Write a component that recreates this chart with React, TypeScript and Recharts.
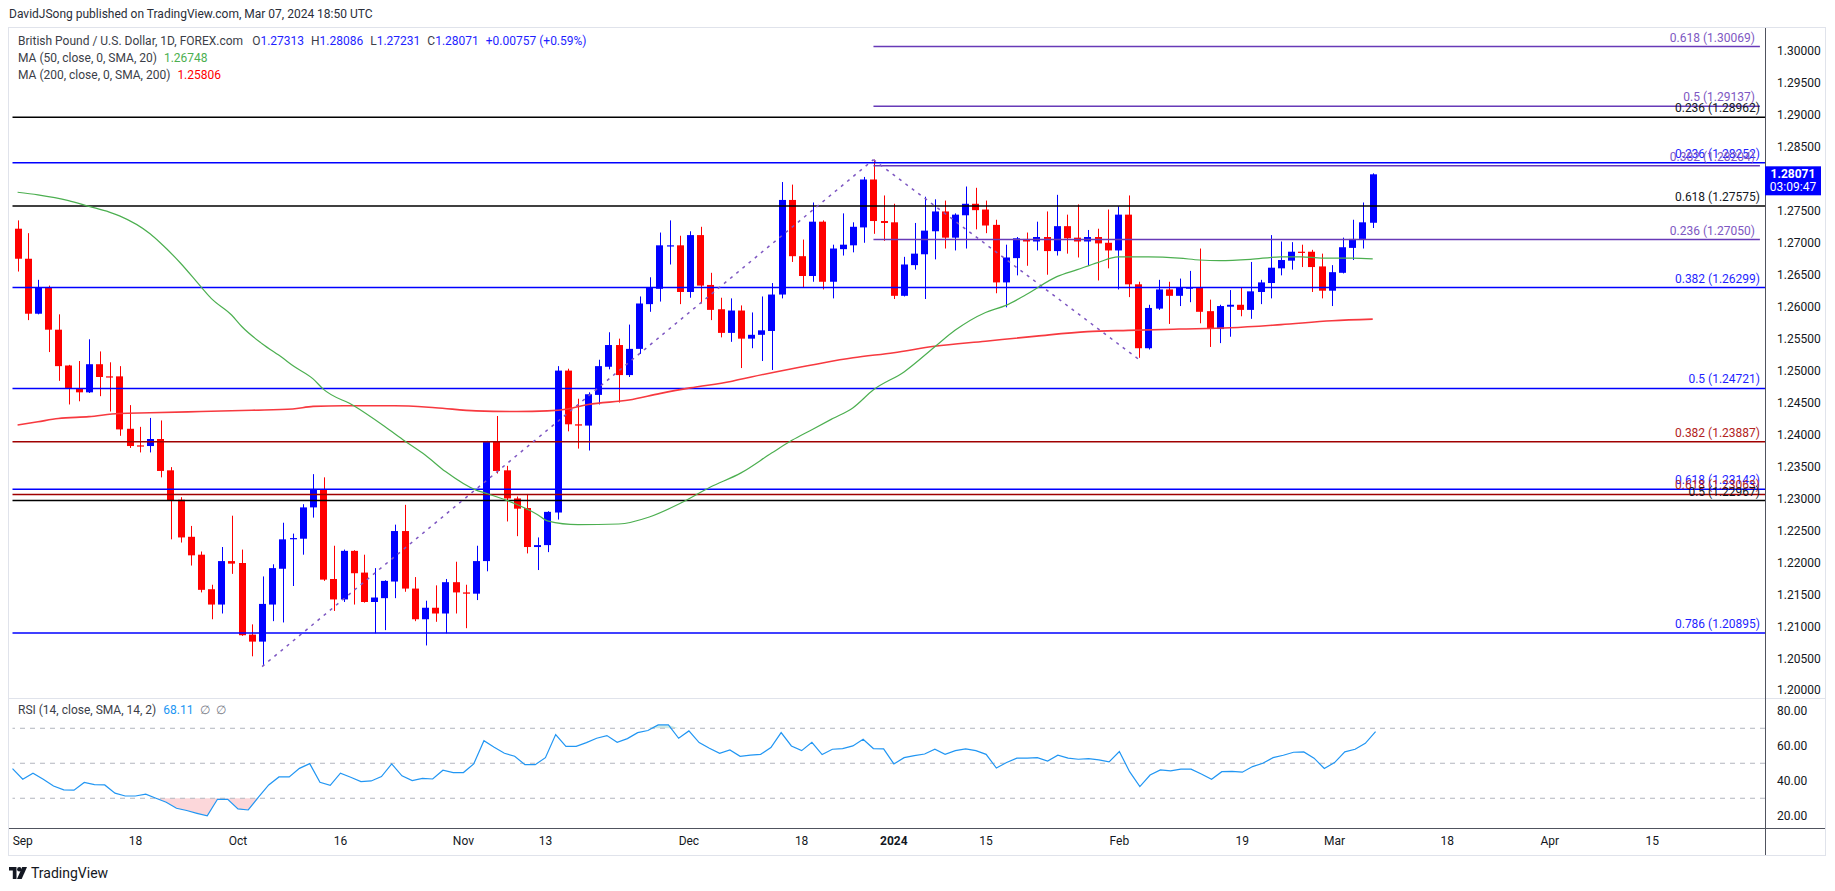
import React from 'react';
import {
  ComposedChart, Bar, Line, Area, XAxis, YAxis, ReferenceLine,
} from 'recharts';

// GBP/USD daily, Aug 31 2023 .. Mar 7 2024 (holidays Dec 25 / Jan 1 absent)
const opens = [
  1.2722, 1.2675, 1.2589, 1.2630, 1.2564, 1.2508, 1.2472, 1.2466, 1.2510, 1.2491,
  1.2491, 1.2409, 1.2383, 1.2382, 1.2393, 1.2344, 1.2298, 1.2240, 1.2212, 1.2158,
  1.2134, 1.2202, 1.2199, 1.2087, 1.2076, 1.2134, 1.2190, 1.2237, 1.2237, 1.2286,
  1.2314, 1.2174, 1.2142, 1.2218, 1.2184, 1.2138, 1.2144, 1.2170, 1.2249, 1.2159,
  1.2111, 1.2129, 1.2120, 1.2169, 1.2153, 1.2151, 1.2202, 1.2389, 1.2344, 1.2300,
  1.2285, 1.2224, 1.2227, 1.2278, 1.2500, 1.2416, 1.2414, 1.2462, 1.2506, 1.2540,
  1.2493, 1.2534, 1.2604, 1.2628, 1.2695, 1.2696, 1.2623, 1.2712, 1.2634, 1.2596,
  1.2559, 1.2594, 1.2550, 1.2556, 1.2562, 1.2619, 1.2767, 1.2679, 1.2648, 1.2733,
  1.2639, 1.2690, 1.2696, 1.2724, 1.2799, 1.2734, 1.2732, 1.2617, 1.2665, 1.2682,
  1.2718, 1.2749, 1.2708, 1.2743, 1.2761, 1.2752, 1.2728, 1.2638, 1.2676, 1.2706,
  1.2702, 1.2709, 1.2687, 1.2726, 1.2708, 1.2702, 1.2709, 1.2700, 1.2688, 1.2744,
  1.2635, 1.2535, 1.2597, 1.2627, 1.2617, 1.2629, 1.2630, 1.2593, 1.2565, 1.2600,
  1.2603, 1.2595, 1.2623, 1.2637, 1.2660, 1.2672, 1.2686, 1.2686, 1.2663, 1.2625,
  1.2653, 1.2692, 1.2706, 1.27313,
];
const highs = [
  1.2735, 1.2715, 1.2642, 1.2633, 1.2588, 1.2509, 1.2515, 1.2549, 1.2530, 1.2513,
  1.2507, 1.2446, 1.2412, 1.2426, 1.2422, 1.2349, 1.2302, 1.2257, 1.2217, 1.2165,
  1.2224, 1.2273, 1.2220, 1.2103, 1.2178, 1.2197, 1.2262, 1.2245, 1.2291, 1.2338,
  1.2333, 1.2226, 1.2220, 1.2219, 1.2212, 1.2191, 1.2172, 1.2259, 1.2290, 1.2177,
  1.2140, 1.2164, 1.2174, 1.2201, 1.2165, 1.2226, 1.2390, 1.2429, 1.2351, 1.2303,
  1.2307, 1.2239, 1.2280, 1.2507, 1.2503, 1.2456, 1.2466, 1.2517, 1.2560, 1.2550,
  1.2572, 1.2616, 1.2646, 1.2716, 1.2735, 1.2711, 1.2718, 1.2725, 1.2653, 1.2614,
  1.2613, 1.2602, 1.2591, 1.2616, 1.2637, 1.2795, 1.2791, 1.2705, 1.2763, 1.2735,
  1.2697, 1.2746, 1.2732, 1.2803, 1.2830, 1.2774, 1.2761, 1.2678, 1.2731, 1.2772,
  1.2768, 1.2766, 1.2746, 1.2788, 1.2786, 1.2766, 1.2736, 1.2697, 1.2709, 1.2716,
  1.2733, 1.2749, 1.2775, 1.2744, 1.2760, 1.2720, 1.2722, 1.2752, 1.2757, 1.2774,
  1.2639, 1.2603, 1.2642, 1.2639, 1.2644, 1.2656, 1.2691, 1.2611, 1.2603, 1.2626,
  1.2630, 1.2670, 1.2642, 1.2712, 1.2702, 1.2701, 1.2697, 1.2689, 1.2683, 1.2665,
  1.2708, 1.2736, 1.2763, 1.28086,
];
const lows = [
  1.2655, 1.2579, 1.2588, 1.2529, 1.2484, 1.2447, 1.2452, 1.2465, 1.2460, 1.2436,
  1.2398, 1.2379, 1.2372, 1.2372, 1.2333, 1.2236, 1.2231, 1.2195, 1.2153, 1.2111,
  1.2120, 1.2182, 1.2085, 1.2053, 1.2038, 1.2108, 1.2106, 1.2163, 1.2212, 1.2270,
  1.2171, 1.2124, 1.2138, 1.2134, 1.2137, 1.2089, 1.2094, 1.2144, 1.2154, 1.2108,
  1.2070, 1.2107, 1.2089, 1.2120, 1.2097, 1.2141, 1.2186, 1.2339, 1.2264, 1.2241,
  1.2214, 1.2188, 1.2216, 1.2267, 1.2405, 1.2378, 1.2375, 1.2447, 1.2502, 1.2450,
  1.2490, 1.2526, 1.2592, 1.2608, 1.2666, 1.2604, 1.2614, 1.2605, 1.2579, 1.2552,
  1.2545, 1.2504, 1.2535, 1.2515, 1.2501, 1.2613, 1.2670, 1.2630, 1.2639, 1.2627,
  1.2613, 1.2680, 1.2685, 1.2700, 1.2714, 1.2703, 1.2612, 1.2616, 1.2658, 1.2612,
  1.2674, 1.2691, 1.2688, 1.2691, 1.2721, 1.2715, 1.2621, 1.2599, 1.2649, 1.2664,
  1.2688, 1.2650, 1.2680, 1.2683, 1.2677, 1.2664, 1.2641, 1.2660, 1.2627, 1.2615,
  1.2520, 1.2533, 1.2595, 1.2573, 1.2601, 1.2607, 1.2574, 1.2537, 1.2543, 1.2553,
  1.2585, 1.2581, 1.2604, 1.2613, 1.2649, 1.2658, 1.2662, 1.2623, 1.2613, 1.2601,
  1.2652, 1.2673, 1.2691, 1.27231,
];
const closes = [
  1.2675, 1.2589, 1.2630, 1.2564, 1.2507, 1.2472, 1.2466, 1.2510, 1.2490, 1.2490,
  1.2408, 1.2382, 1.2382, 1.2393, 1.2343, 1.2297, 1.2239, 1.2211, 1.2157, 1.2134,
  1.2202, 1.2198, 1.2086, 1.2076, 1.2135, 1.2191, 1.2236, 1.2238, 1.2286, 1.2314,
  1.2173, 1.2142, 1.2218, 1.2183, 1.2138, 1.2145, 1.2171, 1.2249, 1.2159, 1.2111,
  1.2129, 1.2120, 1.2169, 1.2153, 1.2151, 1.2202, 1.2389, 1.2343, 1.2300, 1.2284,
  1.2224, 1.2227, 1.2279, 1.2500, 1.2416, 1.2414, 1.2463, 1.2507, 1.2540, 1.2493,
  1.2534, 1.2605, 1.2630, 1.2696, 1.2696, 1.2623, 1.2712, 1.2633, 1.2595, 1.2559,
  1.2594, 1.2550, 1.2556, 1.2563, 1.2619, 1.2767, 1.2679, 1.2648, 1.2733, 1.2639,
  1.2691, 1.2697, 1.2725, 1.2799, 1.2734, 1.2731, 1.2617, 1.2666, 1.2683, 1.2719,
  1.2749, 1.2708, 1.2744, 1.2761, 1.2751, 1.2727, 1.2638, 1.2677, 1.2707, 1.2702,
  1.2709, 1.2687, 1.2726, 1.2707, 1.2702, 1.2709, 1.2699, 1.2688, 1.2744, 1.2635,
  1.2535, 1.2598, 1.2627, 1.2617, 1.2630, 1.2630, 1.2592, 1.2565, 1.2601, 1.2603,
  1.2595, 1.2624, 1.2638, 1.2661, 1.2673, 1.2686, 1.2685, 1.2662, 1.2625, 1.2654,
  1.2693, 1.2706, 1.2732, 1.28071,
];

// moving averages, read at the bar indices listed
const ma50Idx = [0, 2, 5, 7, 9, 10, 13, 14, 16, 18, 19, 21, 22, 24, 26, 27, 29, 30, 33, 36, 38, 40, 42, 45, 46, 48, 51, 52, 55, 59, 62, 65, 68, 71, 74, 76, 78, 80, 82, 84, 87, 90, 92, 95, 97, 99, 102, 104, 106, 108, 111, 114, 116, 118, 121, 124, 126, 128, 131, 133];
const ma50Val = [1.2779, 1.2775, 1.2766, 1.2757, 1.2748, 1.2742, 1.2714, 1.2700, 1.2668, 1.2631, 1.2613, 1.2587, 1.2569, 1.2542, 1.2520, 1.2508, 1.2487, 1.2471, 1.2445, 1.2413, 1.2390, 1.2368, 1.2342, 1.2313, 1.2308, 1.2297, 1.2275, 1.2265, 1.2259, 1.2260, 1.2271, 1.2292, 1.2318, 1.2340, 1.2371, 1.2391, 1.2408, 1.2425, 1.2442, 1.2470, 1.2498, 1.2537, 1.2563, 1.2591, 1.2602, 1.2619, 1.2647, 1.2658, 1.2669, 1.2678, 1.2678, 1.2676, 1.2673, 1.2672, 1.2674, 1.2678, 1.2678, 1.2676, 1.2676, 1.26748];
const ma200Idx = [0, 2, 4, 7, 10, 13, 18, 23, 27, 29, 32, 37, 41, 45, 49, 52, 54, 56, 60, 63, 66, 70, 72, 76, 79, 82, 86, 90, 95, 100, 105, 109, 114, 119, 124, 129, 133];
const ma200Val = [1.2415, 1.2420, 1.2425, 1.2428, 1.2433, 1.2434, 1.2436, 1.2438, 1.2440, 1.2444, 1.2445, 1.2445, 1.2442, 1.2437, 1.2436, 1.2437, 1.2440, 1.2447, 1.2454, 1.2464, 1.2473, 1.2483, 1.2490, 1.2503, 1.2512, 1.2520, 1.2528, 1.2538, 1.2546, 1.2554, 1.2561, 1.2563, 1.2565, 1.2567, 1.2572, 1.2578, 1.25806];

const rsiVals = [
  46.9, 40.9, 44.3, 40.9, 37.0, 34.8, 34.6, 39.0, 37.8, 37.6,
  32.9, 31.3, 31.3, 32.3, 30.0, 27.7, 24.3, 23.0, 21.4, 19.9,
  29.4, 29.4, 23.9, 23.3, 30.6, 37.6, 42.2, 42.2, 47.1, 49.8,
  39.1, 37.4, 44.3, 42.0, 39.5, 39.9, 42.4, 49.6, 42.8, 40.1,
  41.4, 41.0, 46.0, 44.7, 44.7, 49.6, 62.9, 59.1, 55.7, 54.0,
  49.2, 49.2, 53.2, 66.4, 59.7, 59.7, 61.8, 64.3, 65.8, 62.0,
  64.1, 67.5, 68.7, 71.9, 71.9, 64.3, 68.5, 61.8, 58.6, 55.7,
  57.6, 54.0, 54.6, 55.1, 59.0, 67.5, 59.9, 57.2, 62.0, 55.0,
  58.0, 58.4, 59.9, 63.7, 58.4, 58.2, 49.6, 53.2, 54.4, 55.3,
  58.0, 55.1, 57.2, 58.2, 57.2, 55.1, 47.3, 50.4, 52.9, 52.9,
  53.2, 51.3, 54.6, 52.9, 52.3, 52.7, 51.9, 50.8, 56.7, 45.2,
  36.7, 43.3, 46.2, 45.6, 46.6, 46.6, 43.9, 40.9, 45.2, 45.4,
  44.9, 48.1, 50.0, 53.2, 54.6, 56.3, 56.5, 52.9, 47.0, 50.4,
  56.5, 58.0, 61.4, 68.11,
];

// fibonacci levels drawn on the chart
const fibPrice = [1.30069, 1.29137, 1.28962, 1.28252, 1.28204, 1.27575, 1.27050, 1.26299, 1.24721, 1.23887, 1.23142, 1.23063, 1.22967, 1.20895];
const fibRatio = ['0.618', '0.5', '0.236', '0.236', '0.382', '0.618', '0.236', '0.382', '0.5', '0.382', '0.618', '0.618', '0.5', '0.786'];
const fibSet = ['P', 'P', 'K', 'B', 'P', 'K', 'P', 'B', 'B', 'R', 'B', 'R', 'K', 'B'];
const purpleFrom = 84; // Dec 28 high

// swing points of the dashed trend lines
const swingIdx = [24, 84, 110];
const swingPrice = [1.2037, 1.2830, 1.2518];

// 1.28000 sits under the last-price tag, so it is not listed
const priceTicks = [1.2, 1.205, 1.21, 1.215, 1.22, 1.225, 1.23, 1.235, 1.24, 1.245, 1.25, 1.255, 1.26, 1.265, 1.27, 1.275, 1.285, 1.29, 1.295, 1.3];
const rsiTicks = [20, 40, 60, 80];

const tickIdx = [1, 12, 22, 32, 44, 52, 66, 77, 86, 95, 108, 120, 129, 140, 150, 160];
const tickLabels = ['Sep', '18', 'Oct', '16', 'Nov', '13', 'Dec', '18', '2024', '15', 'Feb', '19', 'Mar', '18', 'Apr', '15'];

const SLOTS = 172;

const UP = '#0000ff';
const DOWN = '#ff0000';
const TXT = '#131722';
const LEG = '#3b3e48';
const setLine: Record<string, string> = { P: '#673ab7', K: '#000000', B: '#0000ff', R: '#a00000' };
const setText: Record<string, string> = { P: '#7e57c2', K: '#131722', B: '#1f1fff', R: '#b22222' };

const ma50At = new Map(ma50Idx.map((d, k) => [d, ma50Val[k]]));
const ma200At = new Map(ma200Idx.map((d, k) => [d, ma200Val[k]]));

const rows = Array.from({ length: SLOTS }, (_, i) => {
  const has = i < closes.length;
  const r = has ? rsiVals[i] : null;
  return {
    i,
    o: has ? opens[i] : null,
    h: has ? highs[i] : null,
    l: has ? lows[i] : null,
    c: has ? closes[i] : null,
    range: has ? [lows[i], highs[i]] : null,
    ma50: ma50At.has(i) ? ma50At.get(i) : null,
    ma200: ma200At.has(i) ? ma200At.get(i) : null,
    rsi: r,
    rsiLow: r == null ? null : Math.min(r, 30),
    rsiHigh: r == null ? null : Math.max(r, 70),
  };
});

function Candle(props: any) {
  const { x, y, width, height, payload } = props;
  if (!payload || payload.h == null || x == null) return <g />;
  const top = Math.min(y, y + height);
  const bot = Math.max(y, y + height);
  const k = (bot - top) / (payload.h - payload.l);
  const py = (v: number) => top + (payload.h - v) * k;
  const up = payload.c >= payload.o;
  const color = up ? UP : DOWN;
  const cx = Math.round(x + width / 2) + 0.5;
  const bTop = py(Math.max(payload.o, payload.c));
  const bBot = py(Math.min(payload.o, payload.c));
  return (
    <g>
      <line x1={cx} x2={cx} y1={top} y2={bot} stroke={color} strokeWidth={1} />
      <rect x={Math.round(x)} y={bTop} width={Math.round(width)} height={Math.max(1.2, bBot - bTop)} fill={color} />
    </g>
  );
}

function FibLabel(props: any) {
  const { viewBox, lbl, ink } = props;
  if (!viewBox) return null;
  return (
    <text x={viewBox.x + viewBox.width - 5} y={viewBox.y - 5} textAnchor="end" fill={ink} fontSize={12}>
      {lbl}
    </text>
  );
}

function PriceTag(props: any) {
  const { viewBox, price } = props;
  if (!viewBox) return null;
  const x = viewBox.x + viewBox.width;
  const y = viewBox.y;
  return (
    <g>
      <rect x={x} y={y - 8} width={56} height={29} fill="#0000ff" />
      <text x={x + 28} y={y + 4} textAnchor="middle" fill="#fff" fontSize={12} fontWeight={700}>{price}</text>
      <text x={x + 28} y={y + 17} textAnchor="middle" fill="#fff" fontSize={12}>03:09:47</text>
    </g>
  );
}

function DateTick(props: any) {
  const { x, y, payload } = props;
  const k = tickIdx.indexOf(payload?.value);
  if (k < 0) return <g />;
  const label = tickLabels[k];
  return (
    <text x={x} y={y + 17} textAnchor="middle" fontSize={12} fill={TXT} fontWeight={label === '2024' ? 700 : 400}>
      {label}
    </text>
  );
}

const abs = (s: React.CSSProperties): React.CSSProperties => ({ position: 'absolute', ...s });
const legend = (top: number): React.CSSProperties =>
  abs({ left: 18, top, fontSize: 12, lineHeight: '16px', whiteSpace: 'nowrap', color: LEG });

export default function App() {
  const last = closes.length - 1;
  return (
    <div style={abs({ left: 0, top: 0, width: 1835, height: 891, background: '#fff', fontFamily: 'Roboto, sans-serif', color: TXT })}>
      {/* frame */}
      <div style={abs({ left: 8, top: 27, width: 1818, height: 829, border: '1px solid #e0e3eb', boxSizing: 'border-box' })} />
      <div style={abs({ left: 9, top: 698, width: 1816, height: 1, background: '#e0e3eb' })} />
      <div style={abs({ left: 9, top: 828, width: 1816, height: 1, background: '#50535e' })} />
      <div style={abs({ left: 1765, top: 28, width: 1, height: 827, background: '#50535e' })} />

      <div style={abs({ left: 0, top: 28 })}>
        <ComposedChart width={1835} height={670} data={rows} margin={{ top: 0, right: 0, bottom: 0, left: 12.5 }}>
          <XAxis dataKey="i" hide />
          <YAxis
            orientation="right" width={70} domain={[1.19878, 1.3036]} allowDataOverflow
            ticks={priceTicks} tickFormatter={(v: number) => v.toFixed(5)}
            tick={{ fontSize: 12, fill: TXT }} tickSize={0} tickMargin={12}
            axisLine={false} tickLine={false}
          />
          {fibPrice.map((p, k) => {
            const s = fibSet[k];
            const label = <FibLabel lbl={`${fibRatio[k]} (${p.toFixed(5)})`} ink={setText[s]} />;
            return s === 'P' ? (
              <ReferenceLine
                key={k} stroke={setLine[s]} strokeWidth={1.5}
                segment={[{ x: purpleFrom, y: p }, { x: SLOTS - 1, y: p }]} label={label}
              />
            ) : (
              <ReferenceLine key={k} y={p} stroke={setLine[s]} strokeWidth={1.5} label={label} />
            );
          })}
          <ReferenceLine
            segment={[{ x: swingIdx[0], y: swingPrice[0] }, { x: swingIdx[1], y: swingPrice[1] }]}
            stroke="#7e57c2" strokeDasharray="3 5" strokeWidth={1.5}
          />
          <ReferenceLine
            segment={[{ x: swingIdx[1], y: swingPrice[1] }, { x: swingIdx[2], y: swingPrice[2] }]}
            stroke="#7e57c2" strokeDasharray="3 5" strokeWidth={1.5}
          />
          <Line dataKey="ma200" type="monotone" stroke="#f7393f" strokeWidth={1.6} dot={false} connectNulls isAnimationActive={false} />
          <Line dataKey="ma50" type="monotone" stroke="#4caf50" strokeWidth={1.2} dot={false} connectNulls isAnimationActive={false} />
          <Bar dataKey="range" barSize={7} shape={(p: any) => <Candle {...p} />} isAnimationActive={false} />
          <ReferenceLine y={closes[last]} stroke="none" label={<PriceTag price={closes[last].toFixed(5)} />} />
        </ComposedChart>
      </div>

      <div style={abs({ left: 0, top: 698 })}>
        <ComposedChart width={1835} height={157} data={rows} margin={{ top: 0, right: 0, bottom: 0, left: 12.5 }}>
          <XAxis
            dataKey="i" interval={0} height={27} tick={(p: any) => <DateTick {...p} />}
            tickLine={false} axisLine={false} tickSize={0} tickMargin={0}
          />
          <YAxis
            orientation="right" width={70} domain={[13, 87.3]} allowDataOverflow
            ticks={rsiTicks} tickFormatter={(v: number) => v.toFixed(2)}
            tick={{ fontSize: 12, fill: TXT }} tickSize={0} tickMargin={12}
            axisLine={false} tickLine={false}
          />
          <ReferenceLine y={70} stroke="#b2b5be" strokeDasharray="5 5" />
          <ReferenceLine y={50} stroke="#b2b5be" strokeDasharray="5 5" />
          <ReferenceLine y={30} stroke="#b2b5be" strokeDasharray="5 5" />
          <Area dataKey="rsiLow" baseValue={30} type="linear" stroke="none" fill="#f23645" fillOpacity={0.2} isAnimationActive={false} />
          <Area dataKey="rsiHigh" baseValue={70} type="linear" stroke="none" fill="#089981" fillOpacity={0.2} isAnimationActive={false} />
          <Line dataKey="rsi" type="linear" stroke="#2196f3" strokeWidth={1.2} dot={false} isAnimationActive={false} />
        </ComposedChart>
      </div>

      {/* header */}
      <div style={abs({ left: 9, top: 6, fontSize: 12, lineHeight: '16px', whiteSpace: 'nowrap', color: '#2a2e39' })}>
        DavidJSong published on TradingView.com, Mar 07, 2024 18:50 UTC
      </div>
      <div style={legend(33)}>
        British Pound / U.S. Dollar, 1D, FOREX.com
        <span style={{ marginLeft: 9 }}>O</span><span style={{ color: '#1f1fff' }}>{opens[last].toFixed(5)}</span>
        <span style={{ marginLeft: 7 }}>H</span><span style={{ color: '#1f1fff' }}>{highs[last].toFixed(5)}</span>
        <span style={{ marginLeft: 7 }}>L</span><span style={{ color: '#1f1fff' }}>{lows[last].toFixed(5)}</span>
        <span style={{ marginLeft: 7 }}>C</span><span style={{ color: '#1f1fff' }}>{closes[last].toFixed(5)}</span>
        <span style={{ marginLeft: 7, color: '#1f1fff' }}>+0.00757 (+0.59%)</span>
      </div>
      <div style={legend(50)}>
        MA (50, close, 0, SMA, 20)<span style={{ marginLeft: 7, color: '#4caf50' }}>{ma50Val[ma50Val.length - 1].toFixed(5)}</span>
      </div>
      <div style={legend(67)}>
        MA (200, close, 0, SMA, 200)<span style={{ marginLeft: 7, color: '#ff0000' }}>{ma200Val[ma200Val.length - 1].toFixed(5)}</span>
      </div>
      <div style={legend(702)}>
        RSI (14, close, SMA, 14, 2)<span style={{ marginLeft: 7, color: '#2196f3' }}>{rsiVals[last].toFixed(2)}</span>
        <span style={{ marginLeft: 7, color: '#787b86' }}>∅</span>
        <span style={{ marginLeft: 6, color: '#787b86' }}>∅</span>
      </div>

      {/* logo */}
      <div style={abs({ left: 9, top: 864, display: 'flex', alignItems: 'center', gap: 4, fontSize: 14, lineHeight: '18px', color: TXT })}>
        <svg width={18} height={12} viewBox="0 0 18 12">
          <path d="M0 0h7.5v12H3.8V3.6H0z" fill={TXT} />
          <circle cx={10.3} cy={2.2} r={2.2} fill={TXT} />
          <path d="M13.2 0H18l-5.3 12H8z" fill={TXT} />
        </svg>
        <span>TradingView</span>
      </div>
    </div>
  );
}
